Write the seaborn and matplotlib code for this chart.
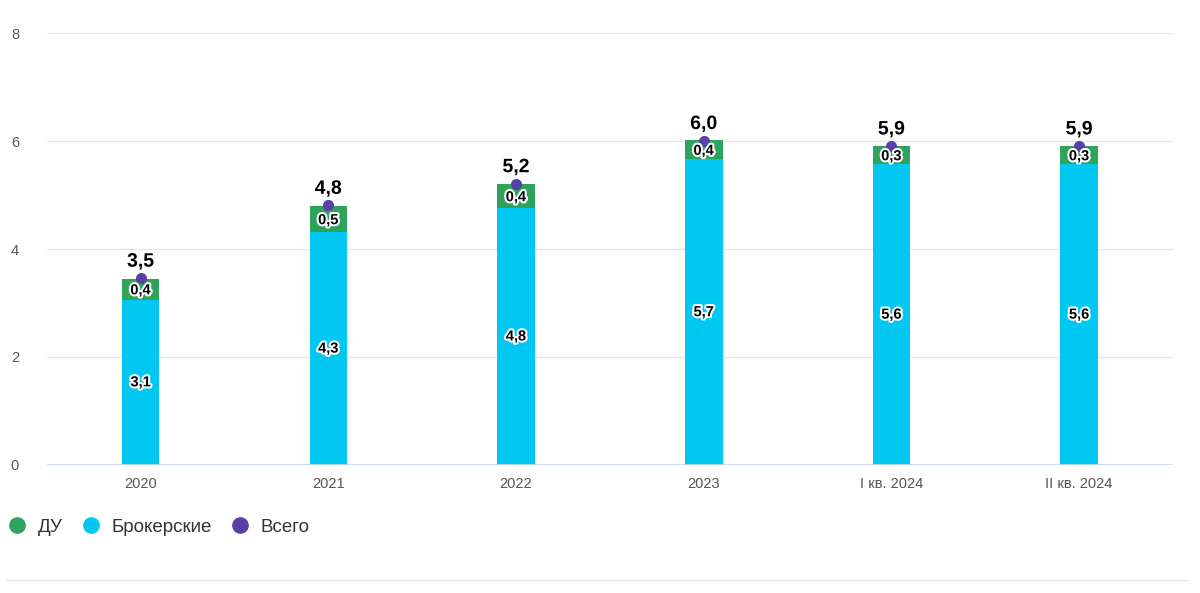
import numpy as np
import pandas as pd
import seaborn as sns
import matplotlib.pyplot as plt
import matplotlib.patheffects as pe
from matplotlib.lines import Line2D

periods = ["2020", "2021", "2022", "2023", "I кв. 2024", "II кв. 2024"]
brokers = [3.06, 4.31, 4.76, 5.66, 5.57, 5.57]
du = [0.39, 0.49, 0.44, 0.36, 0.34, 0.34]
total = [3.46, 4.81, 5.21, 6.01, 5.91, 5.91]

c_du = "#2ea35c"
c_br = "#00c8f2"
c_tot = "#5b3fa8"

df = pd.DataFrame({"period": periods, "brokers": brokers, "du": du, "total": total})
df["stack"] = df["brokers"] + df["du"]

sns.set_style("white")
plt.rcParams["font.family"] = ["Liberation Sans", "DejaVu Sans"]

fig = plt.figure(figsize=(12, 5.93), dpi=100)
ax = fig.add_axes([0.039, 0.216, 0.9385, 0.728])

sns.barplot(data=df, x="period", y="stack", color=c_du, width=0.2,
            saturation=1, linewidth=0, ax=ax, zorder=2)
sns.barplot(data=df, x="period", y="brokers", color=c_br, width=0.2,
            saturation=1, linewidth=0, ax=ax, zorder=2)
sns.pointplot(data=df, x="period", y="total", color=c_tot, linestyle="none",
              markers="o", markersize=8, markeredgewidth=0, ax=ax, zorder=4)

outline = [pe.withStroke(linewidth=3, foreground="white")]
fmt = lambda v: f"{v:.1f}".replace(".", ",")
for i in range(len(periods)):
    ax.text(i, brokers[i] / 2, fmt(brokers[i]), ha="center", va="center",
            fontsize=10.5, fontweight="bold", color="black", path_effects=outline, zorder=5)
    ax.text(i, brokers[i] + du[i] / 2 - 0.02, fmt(du[i]), ha="center", va="center",
            fontsize=10.5, fontweight="bold", color="black", path_effects=outline, zorder=5)
    ax.text(i, total[i] + 0.14, fmt(total[i]), ha="center", va="bottom",
            fontsize=14, fontweight="bold", color="black", path_effects=outline, zorder=5)

ax.set_xlim(-0.5, 5.5)
ax.set_ylim(0, 8)
ax.set_yticks([0, 2, 4, 6, 8])
ax.set_xlabel("")
ax.set_ylabel("")
ax.grid(axis="y", color="#e6e6e6", linewidth=1, zorder=0)
ax.axhline(0, color="#ccd6eb", linewidth=1.2, zorder=3)
for s in ax.spines.values():
    s.set_visible(False)
ax.tick_params(axis="both", length=0, labelsize=10.5, colors="#555555")
ax.tick_params(axis="y", pad=20)
ax.tick_params(axis="x", pad=9)

handles = [Line2D([], [], marker="o", linestyle="none", markersize=11, color=c)
           for c in (c_du, c_br, c_tot)]
fig.legend(handles, ["ДУ", "Брокерские", "Всего"], loc="center left",
           bbox_to_anchor=(-0.009, 0.111), ncol=3, frameon=False, fontsize=13.5,
           handletextpad=0.5, columnspacing=0.9, handlelength=1.2,
           labelcolor="#333333")

fig.add_artist(Line2D([0.005, 0.99], [0.022, 0.022], color="#e6e6e6", linewidth=1))

fig.savefig("out.png", dpi=100)
